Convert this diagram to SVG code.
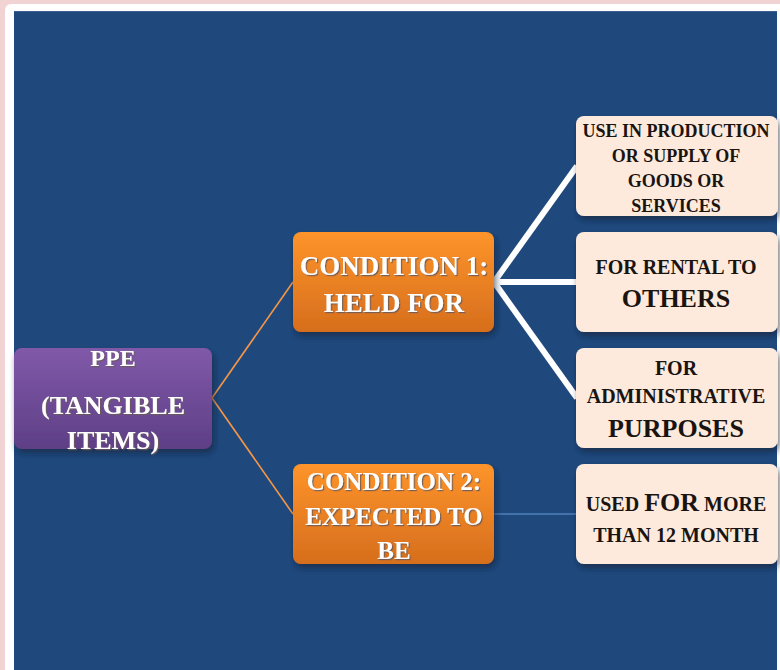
<svg xmlns="http://www.w3.org/2000/svg" width="780" height="670" viewBox="0 0 780 670">
  <defs>
    <linearGradient id="gPurple" x1="0" y1="0" x2="0" y2="1">
      <stop offset="0" stop-color="#8059a9"/>
      <stop offset="1" stop-color="#5e3f86"/>
    </linearGradient>
    <linearGradient id="gOrange" x1="0" y1="0" x2="0" y2="1">
      <stop offset="0" stop-color="#fe942a"/>
      <stop offset="1" stop-color="#d66e1d"/>
    </linearGradient>
    <filter id="shadow" x="-10%" y="-10%" width="130%" height="140%">
      <feDropShadow dx="2" dy="4" stdDeviation="3" flood-color="#0a1a33" flood-opacity="0.6"/>
    </filter>
    <filter id="txtShadow" x="-5%" y="-20%" width="110%" height="150%">
      <feDropShadow dx="1.2" dy="1.2" stdDeviation="0.4" flood-color="#6b5a5a" flood-opacity="0.9"/>
    </filter>
  </defs>
  <style>
    .lt { font-family: "Liberation Serif", "DejaVu Serif", serif; font-weight: bold; text-anchor: middle; fill: #ffffff; filter: url(#txtShadow); }
    .dk { font-family: "Liberation Serif", "DejaVu Serif", serif; font-weight: bold; text-anchor: middle; fill: #1a1410; }
    .leaf { fill: #fdeadd; filter: url(#shadow); }
  </style>

  <!-- page frame -->
  <rect x="0" y="0" width="780" height="670" fill="#f1d3d3"/>
  <rect x="5" y="4" width="790" height="690" rx="6" fill="#ffffff"/>
  <rect x="14" y="11" width="763" height="670" fill="#1f497d"/>
  <line x1="14" y1="11.5" x2="777" y2="11.5" stroke="#3b5f8f" stroke-width="1"/>

  <!-- connectors -->
  <g id="connectors">
    <line x1="212" y1="398" x2="293" y2="282" stroke="#f79646" stroke-width="1.6"/>
    <line x1="212" y1="398" x2="293" y2="514" stroke="#f79646" stroke-width="1.6"/>
    <line x1="494" y1="282" x2="577" y2="166" stroke="#ffffff" stroke-width="6"/>
    <line x1="494" y1="282" x2="577" y2="282" stroke="#ffffff" stroke-width="6"/>
    <line x1="494" y1="282" x2="577" y2="398" stroke="#ffffff" stroke-width="6"/>
    <line x1="494" y1="514" x2="577" y2="514" stroke="#4f81bd" stroke-width="1.6"/>
  </g>

  <!-- root node -->
  <g id="ppe">
    <rect x="14" y="348" width="198" height="101" rx="8" fill="url(#gPurple)" filter="url(#shadow)"/>
    <text class="lt" x="113" y="366" font-size="24">PPE</text>
    <text class="lt" x="113" y="414" font-size="26">(TANGIBLE</text>
    <text class="lt" x="113" y="449" font-size="26">ITEMS)</text>
  </g>

  <!-- condition 1 -->
  <g id="condition1">
    <rect x="293" y="232" width="201" height="100" rx="8" fill="url(#gOrange)" filter="url(#shadow)"/>
    <text class="lt" x="394" y="275" font-size="27">CONDITION 1:</text>
    <text class="lt" x="394" y="312" font-size="27">HELD FOR</text>
  </g>

  <!-- condition 2 -->
  <g id="condition2">
    <rect x="293" y="464" width="201" height="100" rx="8" fill="url(#gOrange)" filter="url(#shadow)"/>
    <text class="lt" x="394" y="490" font-size="25">CONDITION 2:</text>
    <text class="lt" x="394" y="525" font-size="25">EXPECTED TO</text>
    <text class="lt" x="394" y="559" font-size="25">BE</text>
  </g>

  <!-- outcomes of condition 1 -->
  <g id="production">
    <rect class="leaf" x="576" y="116" width="202" height="100" rx="8"/>
    <text class="dk" x="676" y="137" font-size="18">USE IN PRODUCTION</text>
    <text class="dk" x="676" y="162" font-size="18">OR SUPPLY OF</text>
    <text class="dk" x="676" y="187" font-size="18">GOODS OR</text>
    <text class="dk" x="676" y="212" font-size="18">SERVICES</text>
  </g>

  <g id="rental">
    <rect class="leaf" x="576" y="232" width="202" height="100" rx="8"/>
    <text class="dk" x="676" y="274" font-size="20">FOR RENTAL TO</text>
    <text class="dk" x="676" y="307" font-size="26">OTHERS</text>
  </g>

  <g id="administrative">
    <rect class="leaf" x="576" y="348" width="202" height="100" rx="8"/>
    <text class="dk" x="676" y="375" font-size="20">FOR</text>
    <text class="dk" x="676" y="403" font-size="20">ADMINISTRATIVE</text>
    <text class="dk" x="676" y="437" font-size="26">PURPOSES</text>
  </g>

  <!-- outcome of condition 2 -->
  <g id="months">
    <rect class="leaf" x="576" y="464" width="202" height="100" rx="8"/>
    <text class="dk" x="676" y="511" font-size="20">USED <tspan font-size="26">FOR</tspan> MORE</text>
    <text class="dk" x="676" y="542" font-size="20">THAN 12 MONTH</text>
  </g>
</svg>
